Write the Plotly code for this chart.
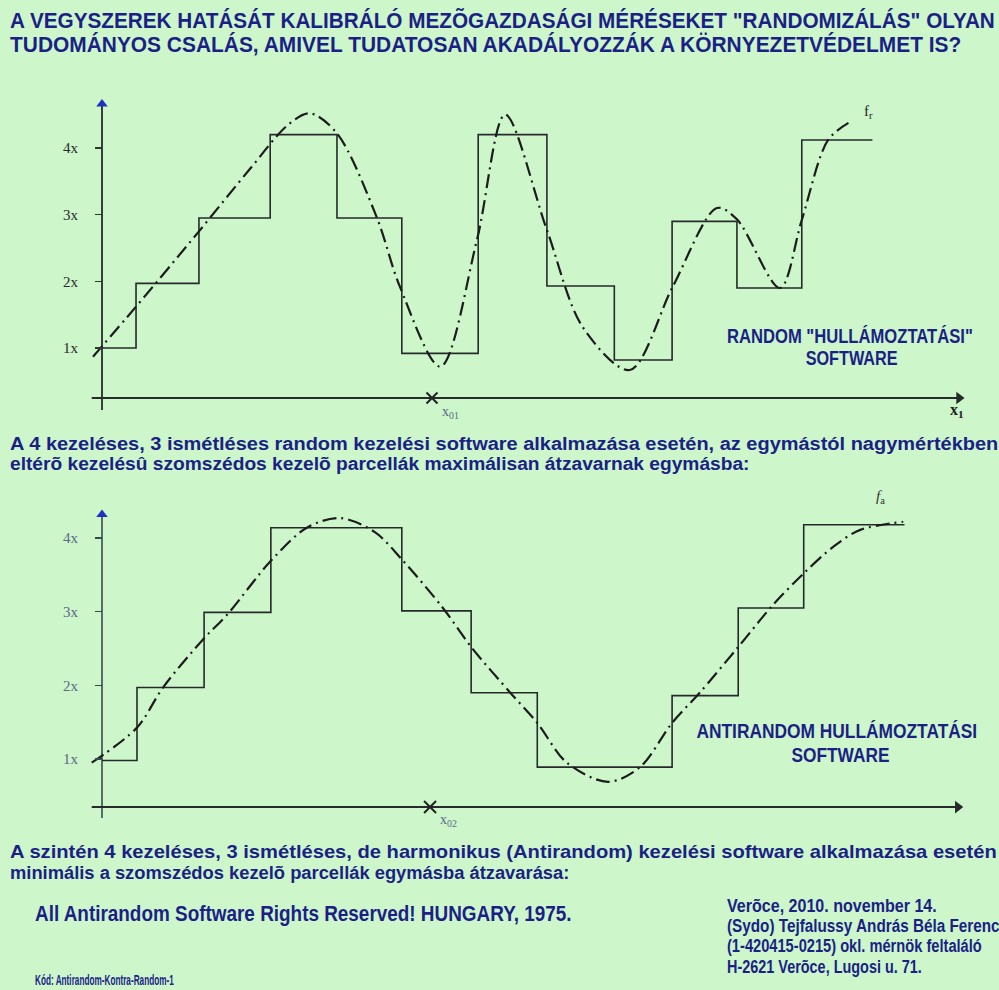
import json
import plotly.graph_objects as go

W, H = 999, 990
BG = "#cdf6ca"
NAVY = "#1b1f86"
INK = "#262a2a"
SANS = "Liberation Sans, Arial, sans-serif"
SERIF = "Liberation Serif, Times New Roman, DejaVu Serif, serif"

# ---------------- data ----------------
tick_vals = [1, 2, 3, 4]
tick_text = ["1x", "2x", "3x", "4x"]

# random layout: parcel boundaries (x units = parcel widths) and treatment levels
rand_bounds = [0, 0.53, 1.51, 2.62, 3.66, 4.67, 5.86, 6.93, 7.98, 8.88, 9.89, 10.90, 12.0]
rand_levels = [1.0, 1.97, 2.95, 4.2, 2.95, 0.92, 4.2, 1.93, 0.82, 2.9, 1.9, 4.12]
# random response curve f_r
fr_x = [-0.14, 0.53, 1.51, 2.3, 2.9, 3.24, 3.66, 4.28, 4.64, 5.27, 5.84, 6.28, 6.93,
        7.49, 8.22, 8.89, 9.58, 9.89, 10.56, 10.9, 11.31, 11.65]
fr_y = [0.87, 1.62, 2.75, 3.68, 4.35, 4.52, 4.22, 2.96, 1.92, 0.72, 2.62, 4.5, 2.77,
        1.31, 0.67, 1.92, 3.1, 2.93, 1.9, 2.92, 4.12, 4.39]

# antirandom layout
anti_bounds = [0, 0.545, 1.59, 2.63, 3.66, 4.67, 5.75, 6.78, 7.83, 8.88, 9.91, 10.93, 12.5]
anti_levels = [0.98, 1.97, 2.99, 4.14, 4.14, 3.01, 1.9, 0.89, 0.89, 1.86, 3.05, 4.18]
# antirandom (harmonic) response curve f_a
fa_x = [-0.16, 0.55, 0.95, 1.57, 1.95, 2.62, 3.19, 3.71, 4.25, 4.67, 5.31, 5.76, 6.36,
        6.78, 7.24, 7.88, 8.38, 8.88, 9.31, 9.91, 10.45, 10.93, 11.39, 11.81, 12.48]
fa_y = [0.95, 1.43, 1.97, 2.62, 2.96, 3.68, 4.14, 4.27, 4.08, 3.71, 3.05, 2.51, 1.9,
        1.49, 0.95, 0.69, 0.89, 1.49, 1.9, 2.52, 3.09, 3.52, 3.88, 4.11, 4.22]

x0_marks = [5.14, 5.11]

# ---------------- geometry helpers (layout only) ----------------
def px(x):
    return x / W

def py(y):
    return 1 - y / H

AXIS_PX = 102.0
UNIT_PX = 64.2
def xr(a, b):
    return [(a - AXIS_PX) / UNIT_PX, (b - AXIS_PX) / UNIT_PX]

def step_xy(bounds, levels):
    return list(bounds), list(levels) + [levels[-1]]

TOP_BASE, BOT_BASE = 0.25, 0.348   # where the x1 axes cross

fig = go.Figure()

def line(xs, ys, xa, ya, color, width, dash=None, shape="linear"):
    fig.add_trace(go.Scatter(x=xs, y=ys, mode="lines", xaxis=xa, yaxis=ya, hoverinfo="skip",
                             line=dict(color=color, width=width, dash=dash, shape=shape,
                                       smoothing=0.9 if shape == "spline" else None)))

def head(x, y, xa, ya, symbol, color, size):
    fig.add_trace(go.Scatter(x=[x], y=[y], mode="markers", xaxis=xa, yaxis=ya, hoverinfo="skip",
                             marker=dict(symbol=symbol, size=size, color=color, line=dict(width=0))))

# axes (drawn as lines with arrowheads)
line([0, 0], [0.07, 4.66], "x", "y", INK, 1.8)
head(0, 4.66, "x", "y", "triangle-up", "#2232c0", 10)
line([-0.16, 13.35], [TOP_BASE, TOP_BASE], "x", "y", INK, 2)
head(13.35, TOP_BASE, "x", "y", "triangle-right", INK, 11)
line([0, 0], [0.2, 4.32], "x2", "y2", "#3a4a55", 1.6)
head(0, 4.32, "x2", "y2", "triangle-up", "#2232c0", 10)
line([-0.16, 13.33], [BOT_BASE, BOT_BASE], "x2", "y2", INK, 2)
head(13.33, BOT_BASE, "x2", "y2", "triangle-right", INK, 11)

DASH = "14px,5px,2px,5px"

sx, sy = step_xy(rand_bounds, rand_levels)
line(sx, sy, "x", "y", INK, 1.6, shape="hv")
line(fr_x, fr_y, "x", "y", "#1c1c1c", 2.2, dash=DASH, shape="spline")
sx, sy = step_xy(anti_bounds, anti_levels)
line(sx, sy, "x2", "y2", INK, 1.6, shape="hv")
line(fa_x, fa_y, "x2", "y2", "#1c1c1c", 2.2, dash=DASH, shape="spline")

# x0 markers on the axes
fig.add_trace(go.Scatter(x=[x0_marks[0]], y=[TOP_BASE], mode="markers",
                         marker=dict(symbol="x-thin", size=11, line=dict(width=2, color="#222")),
                         xaxis="x", yaxis="y", hoverinfo="skip"))
fig.add_trace(go.Scatter(x=[x0_marks[1]], y=[BOT_BASE], mode="markers",
                         marker=dict(symbol="x-thin", size=12, line=dict(width=2, color="#222")),
                         xaxis="x2", yaxis="y2", hoverinfo="skip"))

top_dom = [py(420), py(88)]
bot_dom = [py(830), py(495)]

common_x = dict(visible=False, showgrid=False, zeroline=False, domain=[px(60), px(990)], range=xr(60, 990))
fig.update_layout(
    width=W, height=H,
    margin=dict(l=0, r=0, t=0, b=0),
    paper_bgcolor=BG, plot_bgcolor="rgba(0,0,0,0)",
    showlegend=False,
    xaxis=dict(**common_x, anchor="y"),
    xaxis2=dict(**common_x, anchor="y2"),
    yaxis=dict(domain=top_dom, range=[1 + (348 - 420) / 66.67, 1 + (348 - 88) / 66.67],
               anchor="free", position=px(AXIS_PX), showgrid=False, zeroline=False, showline=False,
               tickvals=tick_vals, ticktext=tick_text, ticks="outside", ticklen=7, tickwidth=1.5,
               tickcolor="#333", ticklabelstandoff=14,
               tickfont=dict(family=SERIF, size=15, color="#2a2a2a")),
    yaxis2=dict(domain=bot_dom, range=[1 + (759 - 830) / 73.67, 1 + (759 - 495) / 73.67],
                anchor="free", position=px(AXIS_PX), showgrid=False, zeroline=False, showline=False,
                tickvals=tick_vals, ticktext=tick_text, ticks="outside", ticklen=7, tickwidth=1.5,
                tickcolor="#3a4a55", ticklabelstandoff=14,
                tickfont=dict(family=SERIF, size=15, color="#5a6a88")),
)

ann = []
fit = {}

def text(x, y, s, size, family=SANS, color=NAVY, xanchor="left", bold=True, width=None, scale=None):
    ann.append(dict(x=px(x), y=py(y), xref="paper", yref="paper", text=("<b>%s</b>" % s) if bold else s,
                    showarrow=False, xanchor=xanchor, yanchor="middle", align="left",
                    font=dict(family=family, size=size, color=color)))
    if width is not None or scale is not None:
        fit[len(ann) - 1] = [width or 0, scale or 0, xanchor]

# title (condensed lettering)
text(8, 20, "A VEGYSZEREK HATÁSÁT KALIBRÁLÓ MEZÕGAZDASÁGI MÉRÉSEKET \"RANDOMIZÁLÁS\" OLYAN", 21.5, width=985)
text(8, 45, "TUDOMÁNYOS CSALÁS, AMIVEL TUDATOSAN AKADÁLYOZZÁK A KÖRNYEZETVÉDELMET IS?", 21.5, width=952)

# chart labels
text(850, 336, "RANDOM \"HULLÁMOZTATÁSI\"", 20, xanchor="center", width=246)
text(851, 358, "SOFTWARE", 20, xanchor="center", width=92)
text(837, 730, "ANTIRANDOM HULLÁMOZTATÁSI", 21, xanchor="center", width=281)
text(840, 754, "SOFTWARE", 21, xanchor="center", width=98)

text(862, 112, "f<sub>r</sub>", 15, family=SERIF, color="#222", bold=False)
text(874, 497, "<i>f</i><sub>a</sub>", 15, family=SERIF, color="#333", bold=False)
text(948, 410, "x<sub>1</sub>", 16, family=SERIF, color="#222")
text(440, 412, "x<sub>01</sub>", 14, family=SERIF, color="#5a6a88", bold=False)
text(438, 820, "x<sub>02</sub>", 14, family=SERIF, color="#5a6a88", bold=False)

# paragraphs
text(8, 443, "A 4 kezeléses, 3 ismétléses random kezelési software alkalmazása esetén, az egymástól nagymértékben", 19, width=989)
text(8, 463, "eltérõ kezelésû szomszédos kezelõ parcellák maximálisan átzavarnak egymásba:", 19, width=740)
text(8, 851, "A szintén 4 kezeléses, 3 ismétléses, de harmonikus (Antirandom) kezelési software alkalmazása esetén", 19, width=987)
text(8, 872, "minimális a szomszédos kezelõ parcellák egymásba átzavarása:", 19, width=560)

text(33, 913, "All Antirandom Software Rights Reserved! HUNGARY, 1975.", 22, width=537)
text(33, 979, "Kód: Antirandom-Kontra-Random-1", 15, width=139)

text(725, 905, "Verõce, 2010. november 14.", 19, width=210)
text(725, 925, "(Sydo) Tejfalussy András Béla Ferenc", 19, width=273)
text(725, 945, "(1-420415-0215) okl. mérnök feltaláló", 19, width=255)
text(725, 966, "H-2621 Verõce, Lugosi u. 71.", 19, width=195)

fig.update_layout(annotations=ann)

post = """
document.body.style.margin='0';
document.body.style.background='%s';
var FIT = %s;
var gd = document.querySelector('.js-plotly-plot');
gd.querySelectorAll('g.annotation').forEach(function(g){
  var i = g.getAttribute('data-index'); var f = FIT[i]; if(!f) return;
  var t = g.querySelector('text.annotation-text'); if(!t) return;
  var b = t.getBBox(); if(!b.width) return;
  var s = f[0] > 0 ? f[0] / b.width : f[1];
  var cx = (f[2] === 'left') ? b.x : b.x + b.width / 2;
  t.setAttribute('transform', 'translate(' + cx + ',0) scale(' + s + ',1) translate(' + (-cx) + ',0)');
});
""" % (BG, json.dumps(fit))

fig.write_html("out.html", post_script=post, config={"displayModeBar": False, "staticPlot": True})
